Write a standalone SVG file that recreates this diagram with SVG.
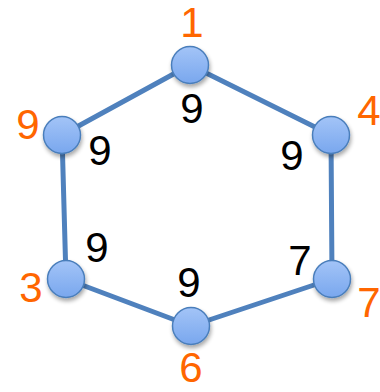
<svg xmlns="http://www.w3.org/2000/svg" width="380" height="392" viewBox="0 0 380 392">
<defs>
<linearGradient id="g" x1="0" y1="0" x2="0" y2="1">
<stop offset="0" stop-color="#a3c4f7"/>
<stop offset="1" stop-color="#79a7ee"/>
</linearGradient>
<filter id="sh" x="-50%" y="-50%" width="200%" height="200%">
<feGaussianBlur in="SourceAlpha" stdDeviation="2"/>
<feOffset dx="1" dy="3" result="b"/>
<feComponentTransfer><feFuncA type="linear" slope="0.35"/></feComponentTransfer>
<feMerge><feMergeNode/><feMergeNode in="SourceGraphic"/></feMerge>
</filter>
</defs>
<style>
.e{stroke:#4f81bd;stroke-width:5;fill:none;stroke-linecap:round}
.n{fill:url(#g);stroke:#4a7ebb;stroke-width:1.5;filter:url(#sh)}
.o{font-family:"Liberation Sans",Arial,sans-serif;font-size:42px;fill:#ff6600;text-anchor:middle}
.k{font-family:"Liberation Sans",Arial,sans-serif;font-size:42px;fill:#000;text-anchor:middle}
</style>
<rect width="380" height="392" fill="#fff"/>
<g id="connectors">
<line class="e" x1="190" y1="65" x2="331" y2="135"/>
<line class="e" x1="331" y1="135" x2="332" y2="279"/>
<line class="e" x1="332" y1="279" x2="191" y2="326"/>
<line class="e" x1="191" y1="326" x2="66" y2="279"/>
<line class="e" x1="66" y1="279" x2="62" y2="135"/>
<line class="e" x1="62" y1="135" x2="190" y2="65"/>
</g>
<g id="node1"><circle class="n" cx="190" cy="65" r="18.5"/><text class="o" x="192" y="37">1</text><text class="k" x="192" y="123">9</text></g>
<g id="node4"><circle class="n" cx="331" cy="135" r="18.5"/><text class="o" x="369" y="125">4</text><text class="k" x="292" y="170">9</text></g>
<g id="node7"><circle class="n" cx="332" cy="279" r="18.5"/><text class="o" x="369" y="317">7</text><text class="k" x="300" y="275">7</text></g>
<g id="node6"><circle class="n" cx="191" cy="326" r="18.5"/><text class="o" x="191" y="382">6</text><text class="k" x="189" y="297">9</text></g>
<g id="node3"><circle class="n" cx="66" cy="279" r="18.5"/><text class="o" x="31" y="302">3</text><text class="k" x="97" y="262">9</text></g>
<g id="node9"><circle class="n" cx="62" cy="135" r="18.5"/><text class="o" x="28" y="139">9</text><text class="k" x="100" y="165">9</text></g>
</svg>
